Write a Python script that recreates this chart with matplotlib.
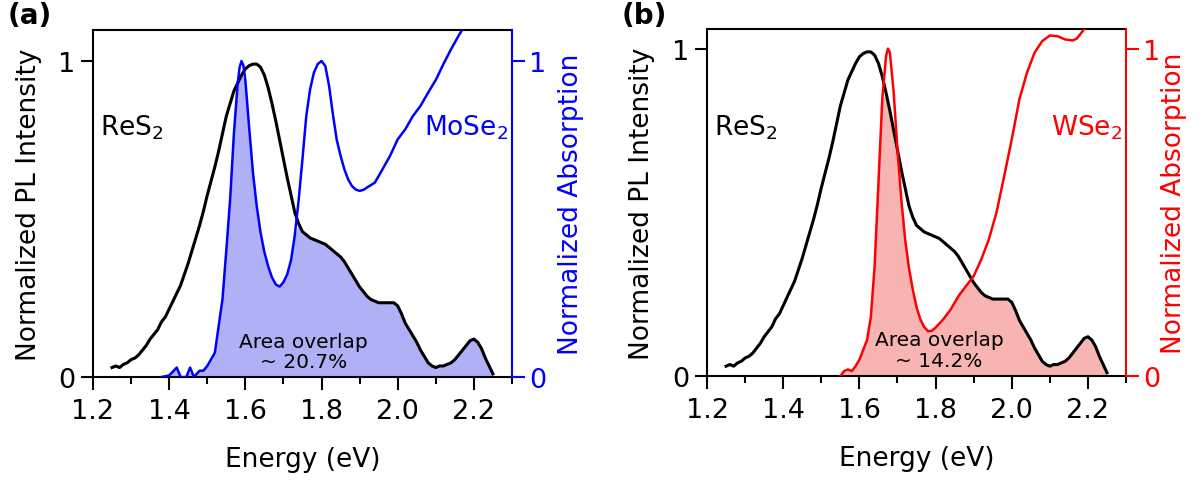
import numpy as np
import matplotlib
matplotlib.use('Agg')
import matplotlib.pyplot as plt
from matplotlib.ticker import MultipleLocator

plt.rcParams['font.family'] = ['DejaVu Sans']
plt.rcParams['mathtext.default'] = 'regular'

# ReS2 photoluminescence, normalized (same spectrum in both panels)
pl_energy = np.round(np.arange(1.25, 2.2501, 0.01), 2)
pl_int = [0.03, 0.035, 0.03, 0.04, 0.045, 0.055, 0.06, 0.07, 0.085, 0.10,
          0.12, 0.135, 0.15, 0.175, 0.19, 0.215, 0.24, 0.265, 0.29, 0.325,
          0.36, 0.40, 0.44, 0.48, 0.525, 0.575, 0.62, 0.665, 0.715, 0.77,
          0.825, 0.865, 0.905, 0.93, 0.955, 0.975, 0.985, 0.99, 0.99, 0.98,
          0.955, 0.915, 0.865, 0.81, 0.75, 0.69, 0.63, 0.575, 0.52, 0.485,
          0.46, 0.45, 0.44, 0.435, 0.43, 0.425, 0.42, 0.41, 0.40, 0.39,
          0.38, 0.365, 0.345, 0.325, 0.305, 0.285, 0.27, 0.255, 0.245, 0.24,
          0.235, 0.235, 0.235, 0.235, 0.235, 0.225, 0.20, 0.17, 0.15, 0.13,
          0.11, 0.085, 0.065, 0.045, 0.035, 0.03, 0.035, 0.035, 0.04, 0.045,
          0.055, 0.07, 0.085, 0.10, 0.115, 0.12, 0.11, 0.09, 0.06, 0.035,
          0.01]

# MoSe2 absorption, normalized
mose2_energy = [1.38, 1.40, 1.42, 1.43, 1.445, 1.455, 1.465, 1.48, 1.49, 1.50,
                1.52, 1.54, 1.55, 1.56, 1.57, 1.58, 1.585, 1.59, 1.595, 1.60,
                1.61, 1.62, 1.63, 1.64, 1.65, 1.66, 1.67, 1.68, 1.69, 1.70,
                1.71, 1.72, 1.73, 1.74, 1.75, 1.76, 1.77, 1.78, 1.79, 1.80,
                1.81, 1.82, 1.83, 1.84, 1.85, 1.86, 1.87, 1.88, 1.89, 1.90,
                1.91, 1.92, 1.94, 1.96, 1.98, 2.00, 2.02, 2.04, 2.06, 2.08,
                2.10, 2.12, 2.14, 2.16, 2.18, 2.20, 2.25, 2.30]
mose2_abs = [0.0, 0.005, 0.03, 0.0, 0.0, 0.03, 0.0, 0.02, 0.02, 0.035,
             0.077, 0.246, 0.40, 0.56, 0.77, 0.93, 0.98, 1.0, 0.985, 0.94,
             0.79, 0.647, 0.54, 0.457, 0.395, 0.35, 0.315, 0.293, 0.286, 0.30,
             0.325, 0.37, 0.45, 0.56, 0.69, 0.826, 0.91, 0.963, 0.99, 1.0,
             0.984, 0.92, 0.83, 0.75, 0.70, 0.657, 0.625, 0.604, 0.593, 0.589,
             0.592, 0.60, 0.615, 0.657, 0.70, 0.752, 0.784, 0.826, 0.858, 0.90,
             0.94, 0.99, 1.037, 1.08, 1.12, 1.16, 1.25, 1.33]

# WSe2 absorption, normalized
wse2_energy = [1.55, 1.56, 1.57, 1.58, 1.59, 1.60, 1.62, 1.63, 1.64, 1.65,
               1.66, 1.67, 1.675, 1.68, 1.69, 1.70, 1.71, 1.72, 1.73, 1.74,
               1.75, 1.76, 1.77, 1.78, 1.79, 1.80, 1.82, 1.84, 1.86, 1.88,
               1.90, 1.92, 1.94, 1.96, 1.98, 2.00, 2.02, 2.04, 2.06, 2.08,
               2.10, 2.12, 2.14, 2.16, 2.17, 2.18, 2.19, 2.20, 2.25, 2.30]
wse2_abs = [0.0, 0.015, 0.02, 0.015, 0.03, 0.05, 0.11, 0.18, 0.336, 0.59,
            0.845, 0.977, 1.0, 0.988, 0.866, 0.69, 0.54, 0.418, 0.33, 0.265,
            0.21, 0.173, 0.15, 0.137, 0.138, 0.148, 0.173, 0.204, 0.244, 0.275,
            0.305, 0.356, 0.418, 0.50, 0.61, 0.723, 0.845, 0.927, 0.988, 1.023,
            1.04, 1.038, 1.028, 1.025, 1.03, 1.044, 1.06, 1.08, 1.15, 1.2]

panels = [
    dict(tag='(a)', name='MoSe$_2$', e=mose2_energy, a=mose2_abs, color='#0000ff',
         fill='#b0b0f6', overlap='Area overlap\n~ 20.7%', ytop=1.098,
         rect=[0.0774, 0.2141, 0.3489, 0.7215], res_y=0.768, ov_x=1.752,
         yl=-0.122, yr=1.11),
    dict(tag='(b)', name='WSe$_2$', e=wse2_energy, a=wse2_abs, color='#ff0000',
         fill='#f8b3b3', overlap='Area overlap\n~ 14.2%', ytop=1.06,
         rect=[0.5887, 0.2162, 0.3489, 0.7215], res_y=0.738, ov_x=1.809,
         yl=-0.124, yr=1.083),
]

fig = plt.figure(figsize=(12.01, 4.81), dpi=100)

for p in panels:
    ax = fig.add_axes(p['rect'])
    ax2 = ax.twinx()
    c = p['color']

    # overlap area = min(PL, absorption) where absorption exists
    e = np.array(pl_energy)
    absi = np.interp(e, p['e'], p['a'], left=np.nan, right=np.nan)
    ov = np.minimum(np.array(pl_int), absi)
    m = ~np.isnan(ov)
    ax.fill_between(e[m], 0, ov[m], color=p['fill'], lw=0, zorder=1)

    ax.plot(pl_energy, pl_int, color='black', lw=2.2, zorder=3)
    ax2.plot(p['e'], p['a'], color=c, lw=1.8, zorder=3)

    for a in (ax, ax2):
        a.set_xlim(1.2, 2.3)
        a.set_ylim(0, p['ytop'])
        a.set_yticks([0, 1])
        a.set_yticklabels(['0', '1'])
    ax.xaxis.set_major_locator(MultipleLocator(0.2))
    ax.xaxis.set_minor_locator(MultipleLocator(0.1))
    ax.tick_params(axis='both', which='major', direction='out', length=9,
                   width=1.5, labelsize=19.5)
    ax.tick_params(axis='x', which='major', pad=6)
    ax.tick_params(axis='x', which='minor', direction='out', length=5, width=1.5)
    ax.tick_params(axis='x', top=False, which='both')
    ax2.tick_params(axis='y', direction='out', length=9, width=1.5,
                    labelsize=19.5, colors=c)

    for s in ax.spines.values():
        s.set_linewidth(1.5)
    for s in ax2.spines.values():
        s.set_linewidth(1.5)
    ax2.spines['right'].set_color(c)
    ax.spines['right'].set_visible(False)
    ax2.spines['left'].set_visible(False)
    ax2.spines['bottom'].set_visible(False)
    ax2.spines['top'].set_visible(False)

    ax.set_xlabel('Energy (eV)', fontsize=19)
    ax.xaxis.set_label_coords(0.5, -0.199)
    ax.set_ylabel('Normalized PL Intensity', fontsize=19)
    ax.yaxis.set_label_coords(p['yl'], 0.5)
    ax2.set_ylabel('Normalized Absorption', fontsize=19, color=c,
                   rotation=90)
    ax2.yaxis.set_label_coords(p['yr'], 0.5)

    ax.text(1.218, p['res_y'], 'ReS$_2$', fontsize=19, ha='left',
            va='baseline')
    ax.text(2.29, p['res_y'], p['name'], fontsize=19, ha='right',
            va='baseline', color=c)
    ax.text(p['ov_x'], 0.08, p['overlap'], fontsize=14.5, ha='center',
            va='center', linespacing=1.1)

    fig.text(p['rect'][0] - 0.071, 0.996, p['tag'], fontsize=20,
             fontweight='bold', ha='left', va='top')

fig.savefig('out.png', dpi=100)
